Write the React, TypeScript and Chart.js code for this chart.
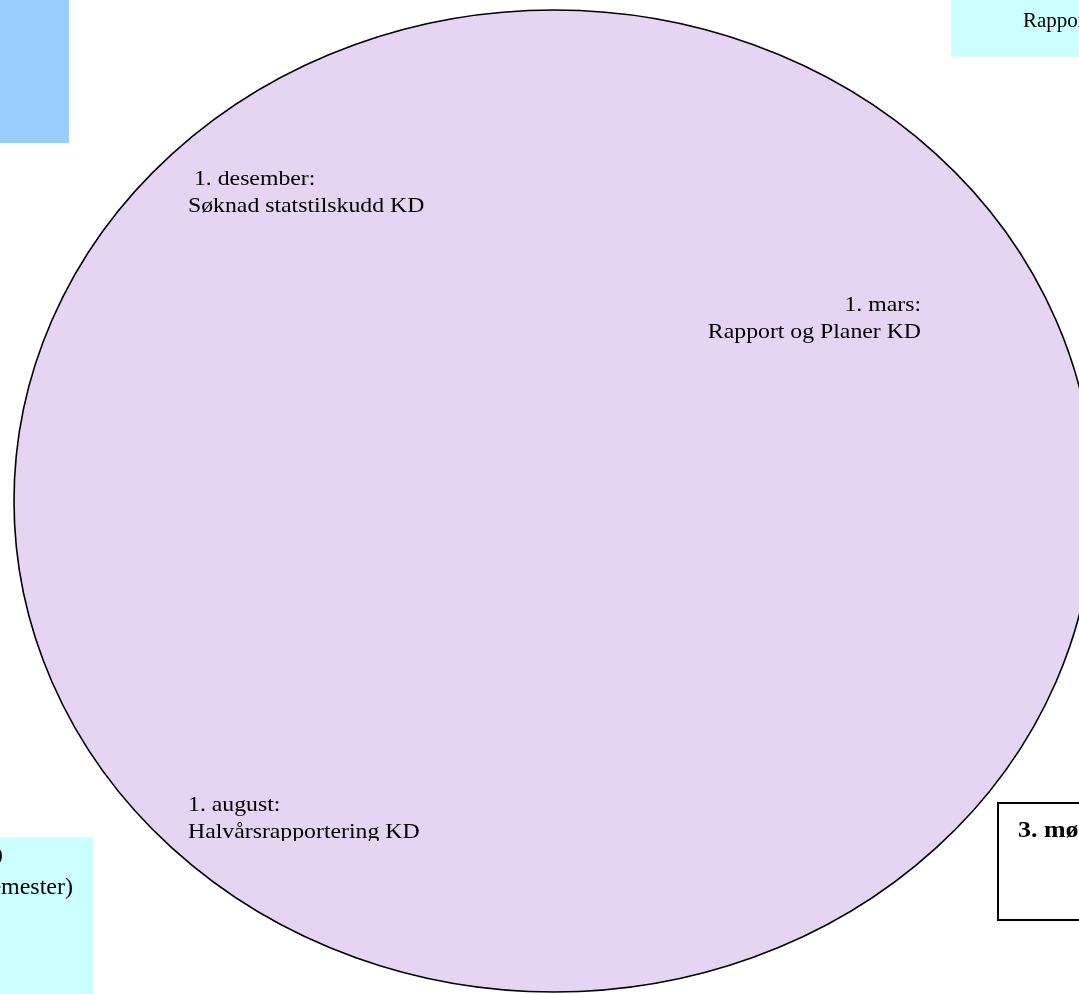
import React, { useEffect, useRef } from "react";
import { Chart, registerables } from "chart.js";

Chart.register(...registerables);

// Diagram extent (data units match the page)
const axisX = [0, 1079];
const axisY = [0, 994];

// The year-wheel ellipse: centre and radii
const wheelCenter = [554, 501];
const wheelRadii = [540, 491];

// Milestones written inside the wheel
const milestoneDates = [" 1. desember:", "1. mars:", "1. august:"];
const milestoneTasks = ["Søknad statstilskudd KD", "Rapport og Planer KD", "Halvårsrapportering KD"];
const milestoneX = [188, 921, 188];
const milestoneY = [185, 311, 811];
const milestoneAlign = ["left", "right", "left"];

// Side boxes around the wheel: [x0, y0, x1, y1]
const boxNames = ["topLeft", "topRight", "bottomLeft", "bottomRight"];
const boxRects = [
  [0, 0, 69, 143],
  [951, 0, 1079, 57],
  [0, 837, 93, 994],
  [998, 803, 1100, 920],
];
const boxFills = ["#99CCFF", "#CCFFFF", "#CCFFFF", "#FFFFFF"];
const boxBorders = [false, false, false, true];

// Texts in the side boxes
const boxTexts = ["Rapport", "(KD)", "(vårsemester)", "3. møte"];
const boxTextX = [1023, 3, 73, 1018];
const boxTextY = [27, 861, 894, 837];
const boxTextAlign = ["left", "right", "right", "left"];

const SERIF = '"Liberation Serif", "Times New Roman", serif';

const wheelPlugin = {
  id: "wheel",
  beforeDatasetsDraw(chart: any) {
    const ctx: CanvasRenderingContext2D = chart.ctx;
    const xs = chart.scales.x;
    const ys = chart.scales.y;
    const px = (v: number) => xs.getPixelForValue(v);
    const py = (v: number) => ys.getPixelForValue(v);

    ctx.save();
    // boxes
    boxRects.forEach((r, i) => {
      const x0 = px(r[0]), y0 = py(r[1]), x1 = px(r[2]), y1 = py(r[3]);
      ctx.fillStyle = boxFills[i];
      ctx.fillRect(x0, y0, x1 - x0, y1 - y0);
      if (boxBorders[i]) {
        ctx.strokeStyle = "#000000";
        ctx.lineWidth = 2;
        ctx.strokeRect(x0, y0, x1 - x0, y1 - y0);
      }
    });

    // wheel
    const cx = px(wheelCenter[0]);
    const cy = py(wheelCenter[1]);
    const rx = Math.abs(px(wheelCenter[0] + wheelRadii[0]) - cx);
    const ry = Math.abs(py(wheelCenter[1] + wheelRadii[1]) - cy);
    ctx.beginPath();
    ctx.ellipse(cx, cy, rx, ry, 0, 0, Math.PI * 2);
    ctx.fillStyle = "#E5D5F3";
    ctx.fill();
    ctx.strokeStyle = "#000000";
    ctx.lineWidth = 1.6;
    ctx.stroke();

    const drawText = (t: string, x: number, y: number, align: string, font: string, sx: number) => {
      ctx.save();
      ctx.translate(x, y);
      ctx.scale(sx, 1);
      ctx.font = font;
      ctx.textAlign = align as CanvasTextAlign;
      ctx.textBaseline = "alphabetic";
      ctx.fillStyle = "#000000";
      ctx.fillText(t, 0, 0);
      ctx.restore();
    };

    // milestones
    milestoneDates.forEach((d, i) => {
      const x = px(milestoneX[i]);
      const y = py(milestoneY[i]);
      ctx.save();
      if (i === 2) {
        ctx.beginPath();
        ctx.rect(0, 0, chart.width, py(841));
        ctx.clip();
      }
      drawText(d, x, y, milestoneAlign[i], `22px ${SERIF}`, 1.08);
      drawText(milestoneTasks[i], x, y + 27, milestoneAlign[i], `22px ${SERIF}`, 1.08);
      ctx.restore();
    });

    // box texts
    const fonts = [`21px ${SERIF}`, `22px ${SERIF}`, `24px ${SERIF}`, `bold 24px ${SERIF}`];
    const stretch = [1, 1.08, 1, 1.08];
    boxTexts.forEach((t, i) => {
      drawText(t, px(boxTextX[i]), py(boxTextY[i]), boxTextAlign[i], fonts[i], stretch[i]);
    });
    ctx.restore();
  },
};

export default function App() {
  const ref = useRef<HTMLCanvasElement>(null);
  useEffect(() => {
    document.body.style.margin = "0";
    const chart = new Chart(ref.current!, {
      type: "scatter",
      data: { datasets: [{ data: [], pointRadius: 0 }] },
      options: {
        animation: false,
        responsive: false,
        layout: { padding: 0 },
        plugins: { legend: { display: false }, tooltip: { enabled: false } },
        scales: {
          x: { type: "linear", min: axisX[0], max: axisX[1], display: false },
          y: { type: "linear", min: axisY[0], max: axisY[1], reverse: true, display: false },
        },
      },
      plugins: [wheelPlugin],
    });
    return () => chart.destroy();
  }, []);
  return (
    <div style={{ position: "absolute", left: 0, top: 0, width: 1079, height: 994, background: "#fff" }}>
      <canvas ref={ref} width={1079} height={994} style={{ display: "block" }} />
    </div>
  );
}
